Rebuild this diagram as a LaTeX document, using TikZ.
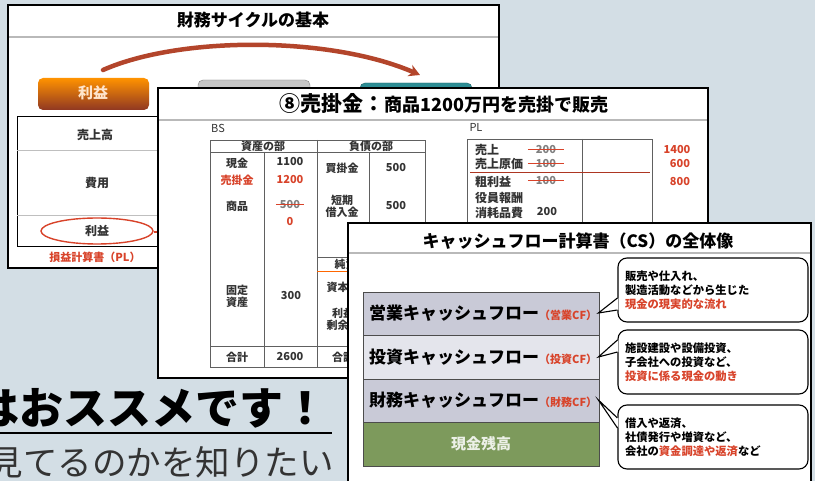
\documentclass[tikz,border=0pt]{standalone}
\usepackage{fontspec}
\setmainfont{Noto Sans CJK JP}
\usetikzlibrary{arrows.meta,calc}

\definecolor{bgblue}{HTML}{D3DEE5}
\definecolor{cfred}{HTML}{D8432A}
\definecolor{arcred}{HTML}{B3452B}
\definecolor{rowdark}{HTML}{C9CAD7}
\definecolor{rowlight}{HTML}{E4E5EC}
\definecolor{cashgreen}{HTML}{7D9A5C}
\definecolor{tealbtn}{HTML}{2D8D94}
\definecolor{inkgray}{HTML}{333333}

\newcommand{\fs}[1]{\fontsize{#1}{#1}\selectfont}

\begin{document}
\begin{tikzpicture}[x=1pt,y=-1pt,
  slide/.style={draw=black,line width=1.6pt,fill=white},
  titlerule/.style={draw=gray!55,line width=1.3pt},
  grid/.style={draw=gray!75!black,line width=0.6pt},
  cell/.style={inner sep=0pt,text=inkgray,font=\bfseries\fs{11},align=center},
  redcell/.style={cell,text=cfred},
  strike/.style={draw=cfred,line width=1pt},
  cfrow/.style={draw=gray!60!black,line width=0.5pt},
  cflabel/.style={anchor=west,inner sep=0pt,font=\bfseries\fs{17}},
  bubble/.style={draw,line width=1.1pt,rounded corners=9pt,fill=white,
    text width=176pt,align=left,inner xsep=7pt,minimum height=64pt,
    font=\bfseries\fontsize{11.3}{14}\selectfont},
  tail/.style={line width=1.1pt}
]
\fill[bgblue] (0,0) rectangle (815,481);
\clip (0,0) rectangle (815,481);

%% slide 1
\draw[slide] (8,5) rectangle (499,268);
\node[font=\bfseries\fs{17}] (t1) at (253,20) {財務サイクルの基本};
\draw[titlerule] (9,37) -- (498,37);
\draw[arcred,line width=4.5pt,line cap=round,-{Stealth[length=11pt,width=12pt]}]
  (103,70) .. controls (180,36) and (330,36) .. (420,75);
\shade[top color=orange!85!yellow,bottom color=arcred!80!black,rounded corners=5pt]
  (38,78) rectangle (149,110);
\node[font=\bfseries\fs{15},text=orange!20] (gain) at (93,93) {利益};
\draw[fill=gray!45,draw=gray,rounded corners=5pt] (198,80) rectangle (310,120);
\draw[fill=tealbtn,draw=tealbtn!70!black,rounded corners=5pt] (360,83) rectangle (472,120);
\draw[line width=1pt] (17,117) rectangle (200,247);
\draw[gray!50] (17,150) -- (200,150);
\draw[gray!50] (17,215) -- (200,215);
\node[cell,font=\bfseries\fs{12}] (sales) at (95,135) {売上高};
\node[cell,font=\bfseries\fs{12}] (cost) at (97,183) {費用};
\node[cell,font=\bfseries\fs{12}] (profit) at (97,231) {利益};
\draw[cfred,line width=1.4pt] (profit) ellipse [x radius=56, y radius=13];
\draw[cfred,line width=2pt] (154,232) -- (162,232);
\node[redcell,font=\bfseries\fs{11}] (plcap) at (95,257) {損益計算書（PL）};

%% slide 2
\draw[slide] (158,88) rectangle (708,378);
\node[inner sep=0pt] (t2) at (444,104)
  {{\bfseries\fs{21}⑧売掛金：}{\bfseries\fs{18}商品1200万円を売掛で販売}};
\draw[titlerule] (159,120) -- (707,120);

% BS
\node[cell,font=\fs{11}] (bs) at (218,128) {BS};
\draw[grid] (210,140) rectangle (425,367);
\draw[grid] (210,152) -- (425,152);
\draw[grid] (264,152) -- (264,367);
\draw[grid] (317,140) -- (317,367);
\draw[grid] (369,152) -- (369,257);
\draw[grid] (369,270) -- (369,367);
\draw[grid] (317,257) -- (425,257);
\draw[orange!80!red,line width=0.8pt] (317,271) -- (425,271);
\draw[grid] (210,346) -- (425,346);
\node[cell] (assets) at (263,146) {資産の部};
\node[cell] (debts) at (371,146) {負債の部};
\node[cell] (cash) at (237,163) {現金};
\node[cell] (cashv) at (290,162) {1100};
\node[redcell] (ar) at (237,180) {売掛金};
\node[redcell] (arv) at (290,180) {1200};
\node[cell] (goods) at (237,206) {商品};
\node[cell,text=gray] (goodsv) at (290,205) {500};
\draw[strike] ([xshift=-4pt]goodsv.west) -- ([xshift=4pt]goodsv.east);
\node[redcell] (goodsz) at (290,222) {0};
\node[cell] (ap) at (342,168) {買掛金};
\node[cell] (apv) at (396,168) {500};
\node[cell,font=\bfseries\fontsize{11}{12}\selectfont] (loan) at (342,206) {短期\\借入金};
\node[cell] (loanv) at (396,206) {500};
\node[cell] (equity) at (362,264) {純資産の部};
\node[cell] (capital) at (343,287) {資本金};
\node[cell,font=\bfseries\fontsize{11}{12}\selectfont] (retained) at (343,319) {利益\\剰余金};
\node[cell,font=\bfseries\fontsize{11}{12}\selectfont] (fixed) at (237,296) {固定\\資産};
\node[cell] (fixedv) at (291,296) {300};
\node[cell] (total) at (237,357) {合計};
\node[cell] (totalv) at (290,357) {2600};
\node[cell] (total2) at (343,357) {合計};

% PL
\node[cell,font=\fs{11}] (pl) at (476,127) {PL};
\draw[grid] (467,139) rectangle (652,240);
\draw[grid] (582,139) -- (582,240);
\node[cell,anchor=west,font=\bfseries\fs{12}] (rev) at (475,150) {売上};
\node[cell,text=gray] (revold) at (546,150) {200};
\draw[strike] ([xshift=-8pt]revold.west) -- ([xshift=8pt]revold.east);
\node[redcell] (revnew) at (677,150) {1400};
\node[cell,anchor=west,font=\bfseries\fs{12}] (cogs) at (475,164) {売上原価};
\node[cell,text=gray] (cogsold) at (546,164) {100};
\draw[strike] ([xshift=-8pt]cogsold.west) -- ([xshift=8pt]cogsold.east);
\node[redcell] (cogsnew) at (680,164) {600};
\draw[cfred!80!black,line width=0.6pt] (470,172) -- (650,172);
\node[cell,anchor=west,font=\bfseries\fs{12}] (gross) at (475,182) {粗利益};
\node[cell,text=gray] (grossold) at (546,181) {100};
\draw[strike] ([xshift=-8pt]grossold.west) -- ([xshift=8pt]grossold.east);
\node[redcell] (grossnew) at (680,182) {800};
\node[cell,anchor=west,font=\bfseries\fs{12}] (pay) at (475,198) {役員報酬};
\node[cell,anchor=west,font=\bfseries\fs{12}] (supp) at (475,213) {消耗品費};
\node[cell] (suppv) at (547,212) {200};

%% slide 3
\draw[slide] (348,223) rectangle (811,500);
\node[font=\bfseries\fs{17}] (t3) at (578,241) {キャッシュフロー計算書（CS）の全体像};
\draw[titlerule] (349,253) -- (810,253);
\fill[rowdark] (363,292) rectangle (599,335);
\fill[rowlight] (363,335) rectangle (599,379);
\fill[rowdark] (363,379) rectangle (599,422);
\fill[cashgreen] (363,422) rectangle (599,466);
\draw[cfrow] (363,292) rectangle (599,466);
\draw[cfrow] (363,335) -- (599,335);
\draw[cfrow] (363,379) -- (599,379);
\draw[cfrow] (363,422) -- (599,422);
\node[cflabel] (op) at (369,313) {営業キャッシュフロー{\color{cfred}\fs{11}（営業CF）}};
\node[cflabel] (inv) at (369,357) {投資キャッシュフロー{\color{cfred}\fs{11}（投資CF）}};
\node[cflabel] (fin) at (369,400) {財務キャッシュフロー{\color{cfred}\fs{11}（財務CF）}};
\node[font=\bfseries\fs{15},text=white!85!cashgreen] (bal) at (481,444) {現金残高};

\node[bubble] (cb1) at (713,290)
  {販売や仕入れ、\\製造活動などから生じた\\{\color{cfred}現金の現実的な流れ}};
\node[bubble] (cb2) at (713,362)
  {施設建設や設備投資、\\子会社への投資など、\\{\color{cfred}投資に係る現金の動き}};
\node[bubble] (cb3) at (713,437)
  {借入や返済、\\社債発行や増資など、\\会社の{\color{cfred}資金調達や返済}など};

\fill[white] ($(cb1.west)+(1,8)$) -- ($(op.east)+(1,0)$) -- ($(cb1.west)+(1,20)$) -- cycle;
\draw[tail] ($(cb1.west)+(0,8)$) -- ($(op.east)+(1,0)$) -- ($(cb1.west)+(0,20)$);
\fill[white] ($(cb2.west)+(1,-22)$) -- ($(inv.east)+(1,0)$) -- ($(cb2.west)+(1,-10)$) -- cycle;
\draw[tail] ($(cb2.west)+(0,-22)$) -- ($(inv.east)+(1,0)$) -- ($(cb2.west)+(0,-10)$);
\fill[white] ($(cb3.west)+(1,-19)$) -- ($(fin.east)+(1,0)$) -- ($(cb3.west)+(1,-9)$) -- cycle;
\draw[tail] ($(cb3.west)+(0,-19)$) -- ($(fin.east)+(1,0)$) -- ($(cb3.west)+(0,-9)$);

%% page text
\node[anchor=east,inner sep=0pt,font=\bfseries\fs{44}] (rec) at (328,408) {はおススメです！};
\draw[line width=2pt] (0,433) -- (332,433);
\node[anchor=east,inner sep=0pt,font=\fs{34.5},text=black!80] (want) at (334,462) {見てるのかを知りたい};
\end{tikzpicture}
\end{document}
